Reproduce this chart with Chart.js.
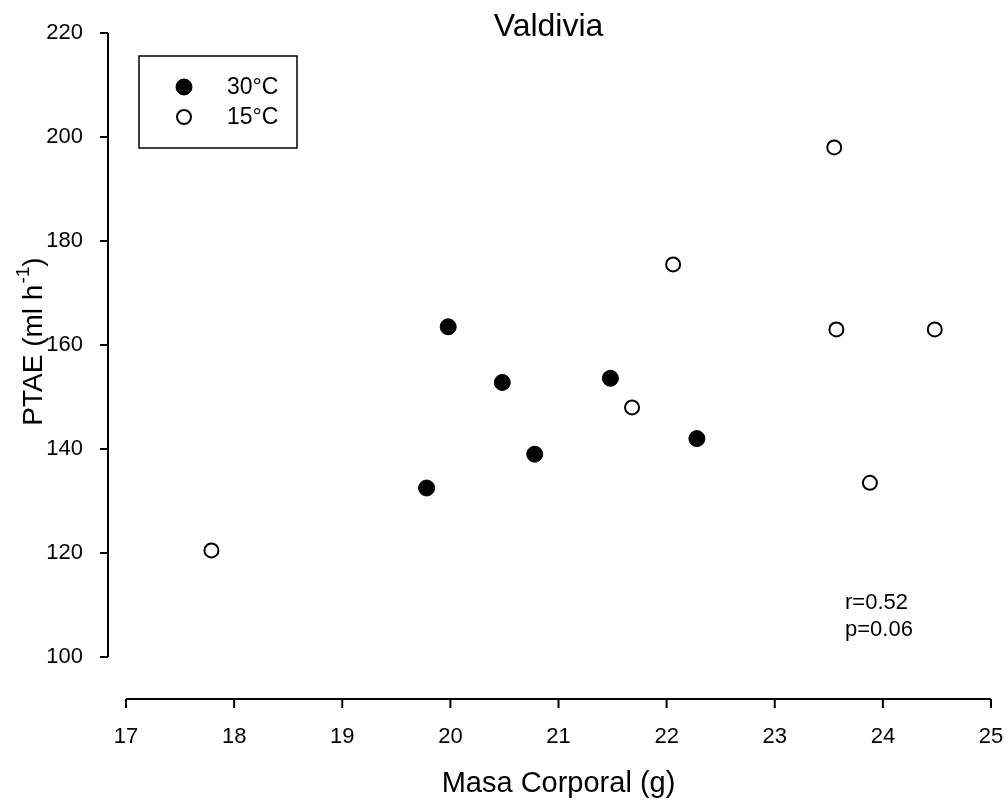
<!DOCTYPE html>
<html>
<head>
<meta charset="utf-8">
<title>Valdivia</title>
<script src="https://cdn.jsdelivr.net/npm/chart.js"></script>
<style>
  html, body { margin: 0; padding: 0; background: #fff; overflow: hidden; }
  #wrap { position: relative; width: 1008px; height: 801px; }
  #wrap canvas { display: block; }
</style>
</head>
<body>
<div id="wrap"><canvas id="chart"></canvas></div>
<script>
// data
const hotMass = [19.78, 19.98, 20.48, 20.78, 21.48, 22.28];
const hotPtae = [132.5, 163.5, 152.8, 139, 153.6, 142];
const coldMass = [17.79, 21.68, 22.06, 23.55, 23.57, 24.48, 23.88];
const coldPtae = [120.5, 148, 175.5, 198, 163, 163, 133.5];
const xTicks = [17, 18, 19, 20, 21, 22, 23, 24, 25];
const yTicks = [100, 120, 140, 160, 180, 200, 220];
const statLines = ["r=0.52", "p=0.06"];

const FONT = '"Liberation Sans", Arial, sans-serif';

const toPoints = (xs, ys) => xs.map((x, i) => ({ x: x, y: ys[i] }));

// no extra room for overhanging tick labels, the layout is fixed
const noOverhang = (s) => {
  s.paddingLeft = 0;
  s.paddingRight = 0;
  s.paddingTop = 0;
  s.paddingBottom = 0;
};

// draws detached axes, title, y label, legend box and stats text
const decorations = {
  id: "decorations",
  afterDraw(chart) {
    const ctx = chart.ctx;
    const xs = chart.scales.x;
    const ys = chart.scales.y;
    const area = chart.chartArea;
    ctx.save();
    ctx.strokeStyle = "#000";
    ctx.fillStyle = "#000";
    ctx.lineWidth = 2;

    // y axis, pulled left of the plot
    const ax = area.left - 18;
    ctx.beginPath();
    ctx.moveTo(ax, ys.getPixelForValue(yTicks[0]));
    ctx.lineTo(ax, ys.getPixelForValue(yTicks[yTicks.length - 1]));
    yTicks.forEach((v) => {
      const py = ys.getPixelForValue(v);
      ctx.moveTo(ax, py);
      ctx.lineTo(ax - 8, py);
    });
    ctx.stroke();

    // x axis, pushed below the plot
    const ay = area.bottom + 42;
    ctx.beginPath();
    ctx.moveTo(xs.getPixelForValue(xTicks[0]), ay);
    ctx.lineTo(xs.getPixelForValue(xTicks[xTicks.length - 1]), ay);
    xTicks.forEach((v) => {
      const px = xs.getPixelForValue(v);
      ctx.moveTo(px, ay);
      ctx.lineTo(px, ay + 9);
    });
    ctx.stroke();

    // title
    ctx.font = "32px " + FONT;
    ctx.textAlign = "center";
    ctx.textBaseline = "middle";
    ctx.fillText("Valdivia", (area.left + area.right) / 2 - 10, area.top - 6);

    // y axis title with superscript
    ctx.save();
    ctx.translate(32, (area.top + area.bottom) / 2 - 3);
    ctx.rotate(-Math.PI / 2);
    const main = "PTAE (ml h";
    const sup = "-1";
    const close = ")";
    ctx.font = "28px " + FONT;
    const w1 = ctx.measureText(main).width;
    const w3 = ctx.measureText(close).width;
    ctx.font = "19px " + FONT;
    const w2 = ctx.measureText(sup).width;
    const sx = -(w1 + w2 + w3) / 2;
    ctx.textAlign = "left";
    ctx.textBaseline = "alphabetic";
    ctx.font = "28px " + FONT;
    ctx.fillText(main, sx, 10);
    ctx.font = "19px " + FONT;
    ctx.fillText(sup, sx + w1 + 1, -3);
    ctx.font = "28px " + FONT;
    ctx.fillText(close, sx + w1 + w2 + 1, 10);
    ctx.restore();

    // legend box
    ctx.lineWidth = 1.5;
    ctx.strokeRect(139, 56, 158, 92);
    ctx.font = "23px " + FONT;
    ctx.textAlign = "left";
    ctx.textBaseline = "middle";
    chart.data.datasets.forEach((ds, i) => {
      const ly = 87 + i * 30;
      ctx.fillStyle = ds.backgroundColor;
      ctx.strokeStyle = ds.borderColor;
      ctx.lineWidth = ds.borderWidth;
      ctx.beginPath();
      ctx.arc(184, ly, ds.pointRadius, 0, Math.PI * 2);
      ctx.fill();
      ctx.stroke();
      ctx.fillStyle = "#000";
      ctx.fillText(ds.label, 227, ly + 1);
    });

    // stats
    ctx.font = "22px " + FONT;
    statLines.forEach((s, i) => {
      ctx.fillText(s, 845, 603 + i * 27);
    });
    ctx.restore();
  }
};

new Chart(document.getElementById("chart"), {
  type: "scatter",
  data: {
    datasets: [
      {
        label: "30°C",
        data: toPoints(hotMass, hotPtae),
        backgroundColor: "#000",
        borderColor: "#000",
        borderWidth: 1,
        pointRadius: 8
      },
      {
        label: "15°C",
        data: toPoints(coldMass, coldPtae),
        backgroundColor: "#fff",
        borderColor: "#000",
        borderWidth: 2,
        pointRadius: 7
      }
    ]
  },
  options: {
    responsive: true,
    maintainAspectRatio: false,
    animation: false,
    layout: { padding: { top: 33, right: 17, bottom: 0, left: 0 } },
    plugins: {
      legend: { display: false },
      tooltip: { enabled: false }
    },
    scales: {
      x: {
        type: "linear",
        min: 17,
        max: 25,
        afterBuildTicks: (s) => { s.ticks = xTicks.map((v) => ({ value: v })); },
        afterFit: (s) => { s.height = 144; noOverhang(s); },
        grid: { display: false },
        border: { display: false },
        ticks: {
          color: "#000",
          font: { family: FONT, size: 22 },
          padding: 59
        },
        title: {
          display: true,
          text: "Masa Corporal (g)",
          color: "#000",
          font: { family: FONT, size: 29 },
          padding: { top: 0, bottom: 0 }
        }
      },
      y: {
        type: "linear",
        min: 100,
        max: 220,
        afterBuildTicks: (s) => { s.ticks = yTicks.map((v) => ({ value: v })); },
        afterFit: (s) => { s.width = 126; noOverhang(s); },
        grid: { display: false },
        border: { display: false },
        ticks: {
          color: "#000",
          font: { family: FONT, size: 22 },
          padding: 35
        }
      }
    }
  },
  plugins: [decorations]
});
</script>
</body>
</html>
